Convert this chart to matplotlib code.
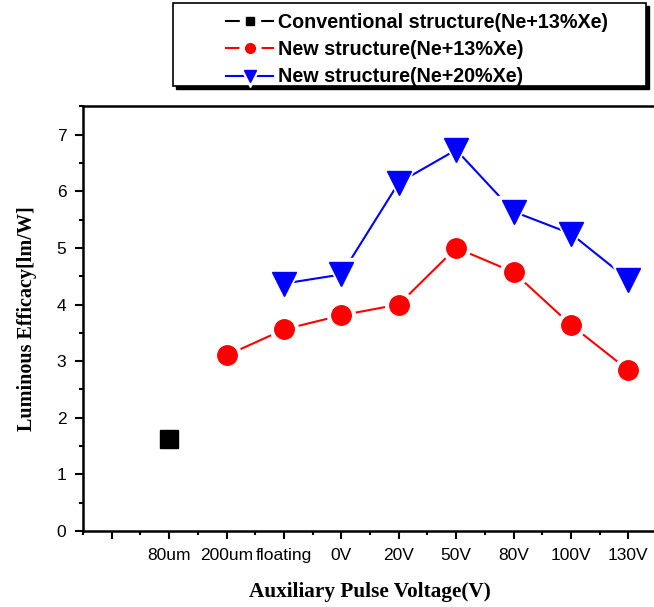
import numpy as np
import matplotlib.pyplot as plt
from matplotlib.lines import Line2D
from matplotlib.patches import Rectangle
from matplotlib.ticker import MultipleLocator

# tick labels (first slot is blank)
categories = ['', '80um', '200um', 'floating', '0V', '20V', '50V', '80V', '100V', '130V']

conv_x = ['80um']
conv_y = [1.62]

new13_x = ['200um', 'floating', '0V', '20V', '50V', '80V', '100V', '130V']
new13_y = [3.10, 3.56, 3.81, 4.00, 5.00, 4.57, 3.64, 2.84]

new20_x = ['floating', '0V', '20V', '50V', '80V', '100V', '130V']
new20_y = [4.37, 4.53, 6.15, 6.73, 5.64, 5.25, 4.44]

labels = ['Conventional structure(Ne+13%Xe)',
          'New structure(Ne+13%Xe)',
          'New structure(Ne+20%Xe)']

plt.rcParams['font.family'] = ['Liberation Sans', 'DejaVu Sans']

fig = plt.figure(figsize=(6.54, 6.07), dpi=100)
ax = fig.add_axes([0.127, 0.125, 0.8777, 0.700])


def series(xs, ys, color, marker, ms, halo):
    pos = [categories.index(c) for c in xs]
    ax.plot(pos, ys, color=color, lw=1.5, marker=marker, ms=ms + halo,
            mfc='white', mec='white', zorder=2, clip_on=False)
    ax.plot(pos, ys, ls='none', marker=marker, ms=ms, color=color,
            mec=color, zorder=3, clip_on=False)


def legend_handle(color, marker, ms):
    # line broken around the marker, as in the plot
    ln = Line2D([], [], color=color, lw=1.5, marker=marker, ms=ms + 8,
                mfc='white', mec='white')
    mk = Line2D([], [], ls='none', marker=marker, ms=ms, color=color, mec=color)
    return (ln, mk)


series(conv_x, conv_y, 'black', 's', 13, 6)
series(new13_x, new13_y, 'red', 'o', 14, 6)
series(new20_x, new20_y, 'blue', 'v', 17.5, 6)

ax.set_xlim(-0.5, 9.5)
ax.set_ylim(0, 7.5)
ax.set_xticks(range(len(categories)))
ax.set_xticklabels(categories)
ax.xaxis.set_minor_locator(plt.FixedLocator(np.arange(-0.5, 9.6, 1)))
ax.yaxis.set_major_locator(MultipleLocator(1))
ax.yaxis.set_minor_locator(MultipleLocator(0.5))
ax.tick_params(axis='both', which='major', direction='out', length=6, width=1.5,
               labelsize=12.5, pad=6)
ax.tick_params(axis='both', which='minor', direction='out', length=3, width=1.5)
for s in ax.spines.values():
    s.set_linewidth(1.8)

ax.set_xlabel('Auxiliary Pulse Voltage(V)', family='Liberation Serif',
              fontweight='bold', fontsize=15.3, labelpad=14)
ax.set_ylabel('Luminous Efficacy[lm/W]', family='Liberation Serif',
              fontweight='bold', fontsize=14.5, labelpad=14)

# legend box with black drop shadow
x0, x1 = 173 / 654, 646 / 654
y0, y1 = 1 - 86 / 607, 1 - 3 / 607
fig.patches.append(Rectangle((x0 + 3 / 654, y0 - 3 / 607), x1 - x0, y1 - y0,
                             transform=fig.transFigure, fc='black', ec='black',
                             zorder=1))
fig.patches.append(Rectangle((x0, y0), x1 - x0, y1 - y0,
                             transform=fig.transFigure, fc='white', ec='black',
                             lw=1.2, zorder=2))

handles = [legend_handle('black', 's', 6),
           legend_handle('red', 'o', 7),
           legend_handle('blue', 'v', 8)]
leg = fig.legend(handles, labels, loc='upper left',
                 bbox_to_anchor=(216 / 654, 1 - 3 / 607), frameon=False,
                 borderpad=0, handlelength=2.4, handletextpad=0.25,
                 labelspacing=0.42,
                 prop={'family': 'Liberation Sans', 'weight': 'bold', 'size': 14.2})
leg.set_zorder(5)

fig.savefig('out.png', dpi=100)
